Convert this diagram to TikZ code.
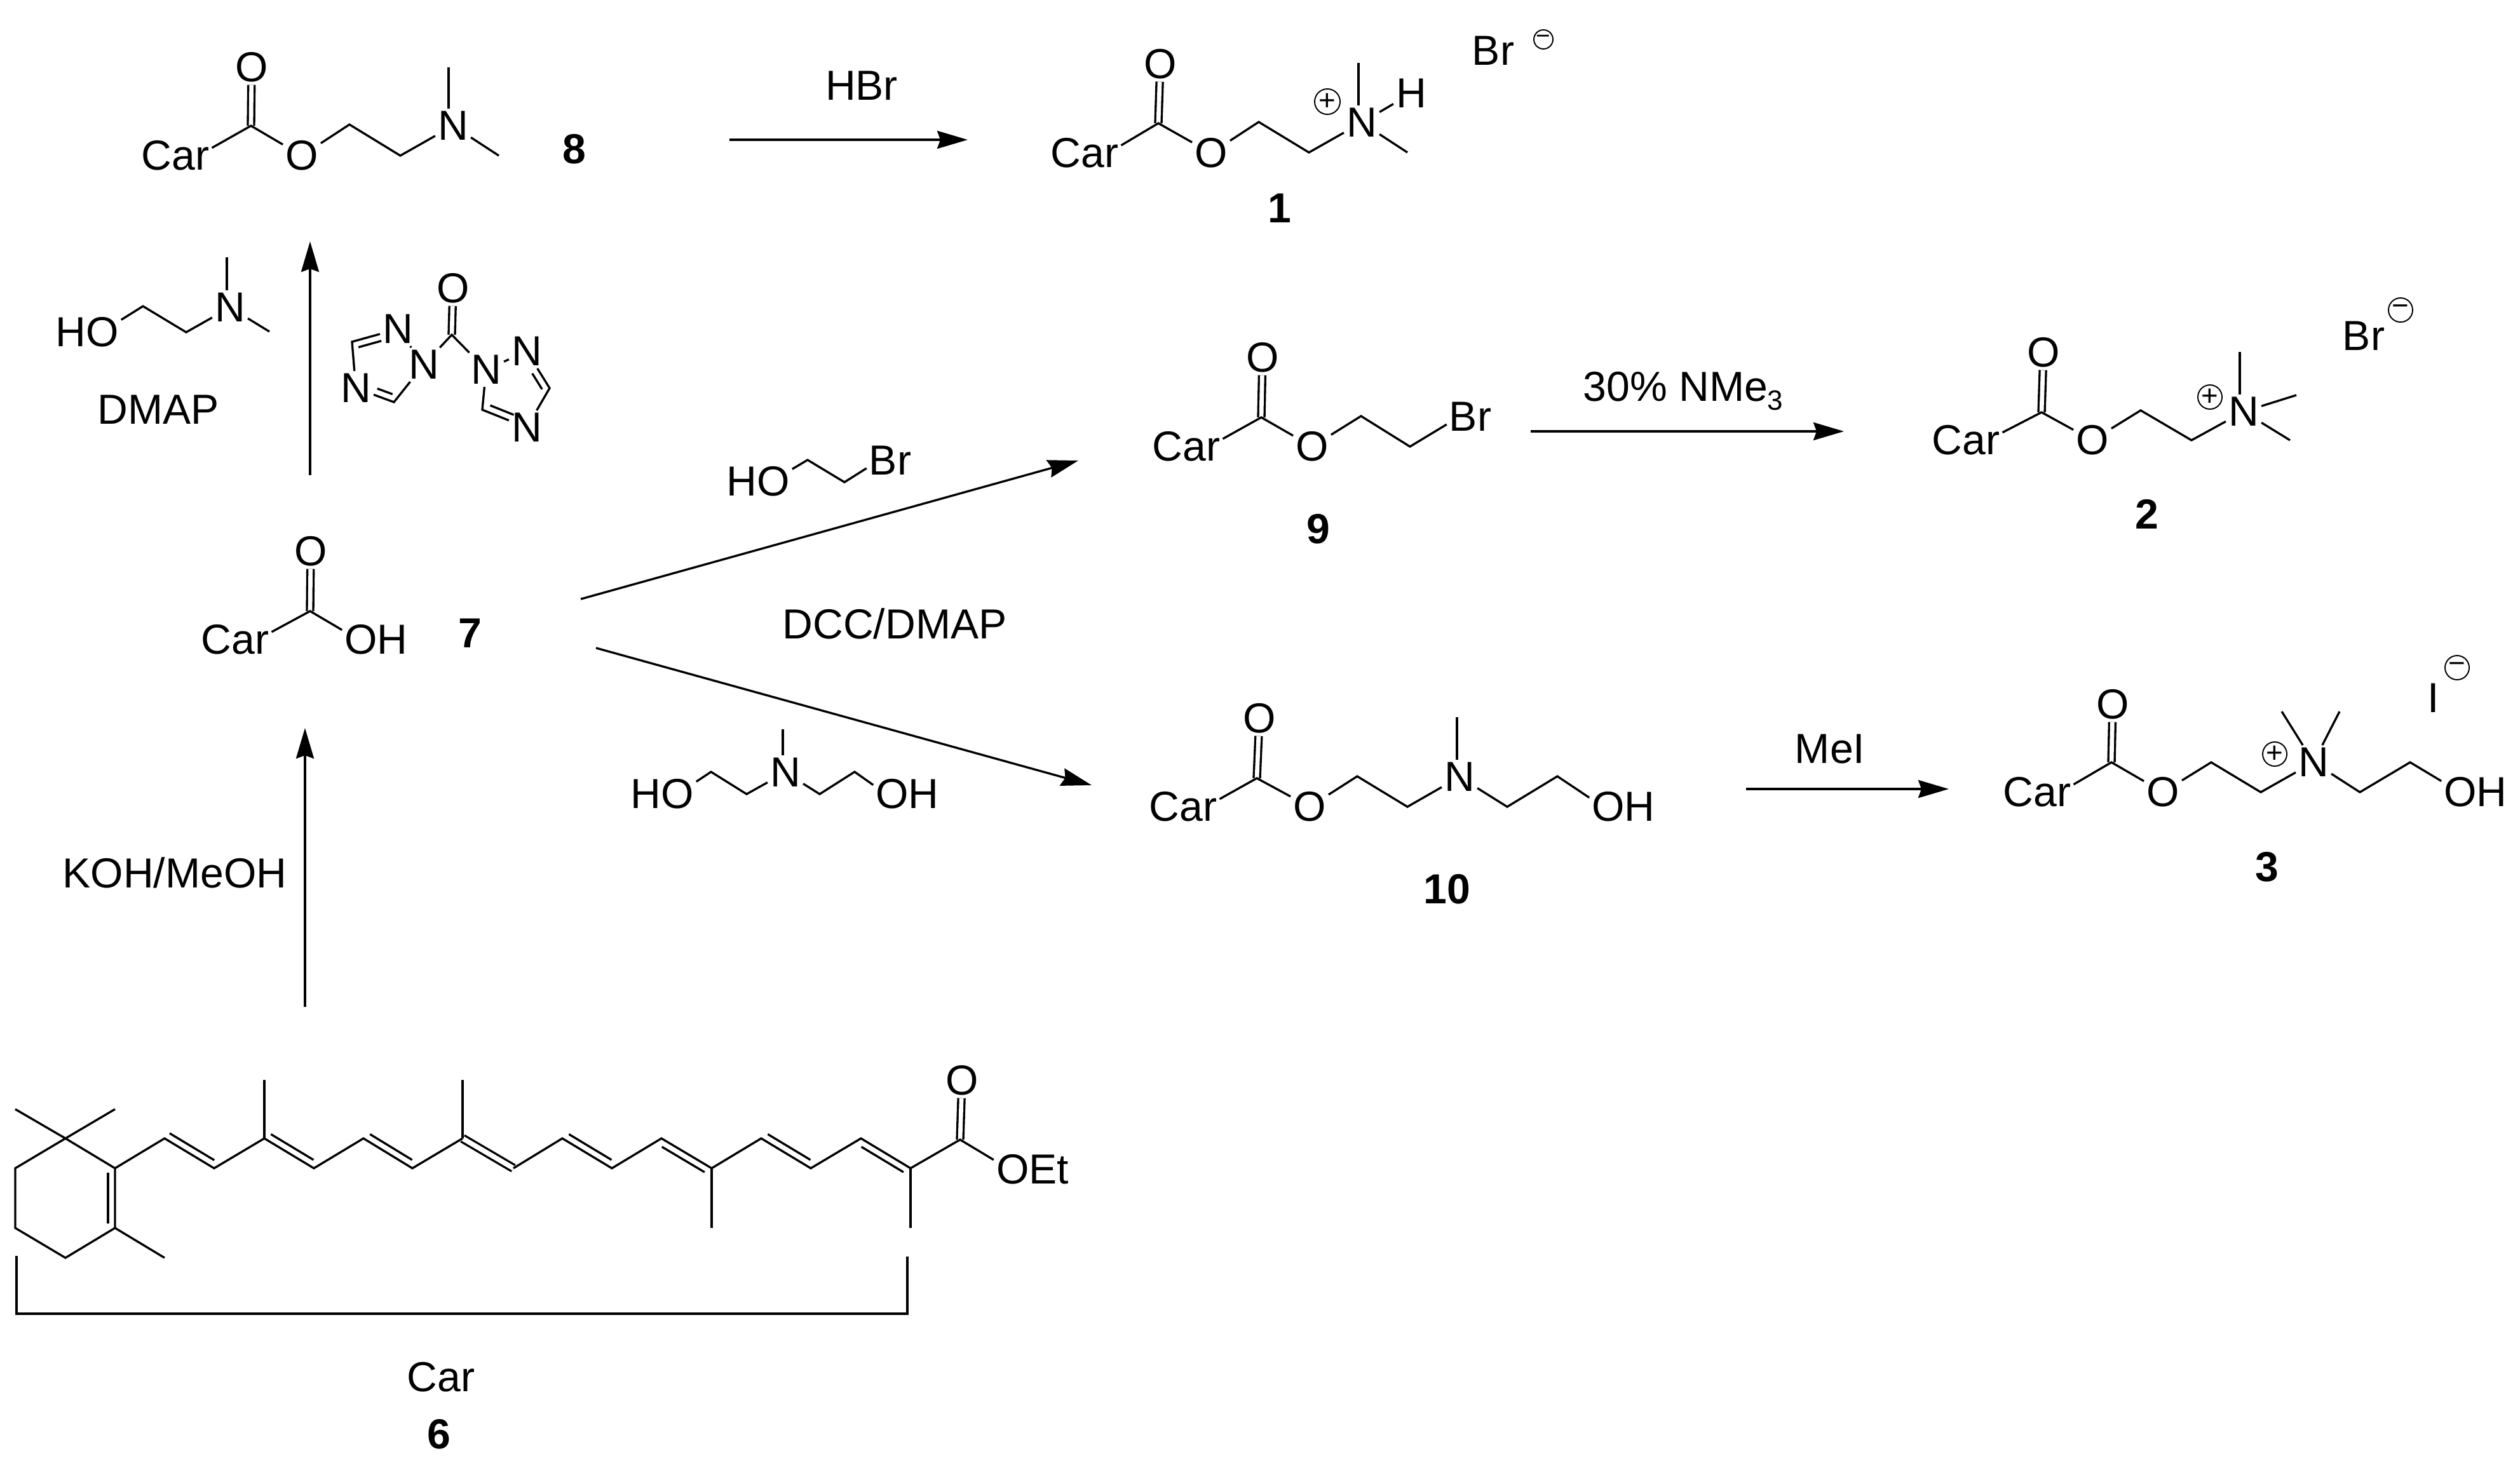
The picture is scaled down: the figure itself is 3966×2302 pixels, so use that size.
\documentclass[tikz,border=0pt]{standalone}
\usepackage{fontspec}
\setmainfont{Liberation Sans}
\usetikzlibrary{calc}
\usetikzlibrary{arrows.meta}
\tikzset{x=0.01cm,y=-0.01cm,
    every node/.style={
        font=\fontsize{18.8}{22}\selectfont,
        inner sep=1pt},
    cpd/.style={
        font=\fontsize{18.8}{22}\selectfont\bfseries},
    chg/.style={
        draw,circle,
        line width=.55pt,
        inner sep=0pt,
        minimum size=.38cm,
        font=\fontsize{13}{13}\selectfont},
    chgs/.style={
        chg,
        minimum size=.3cm,
        font=\fontsize{11}{11}\selectfont},
    bond/.style={
        line width=.95pt},
    dbl/.style={
        line width=.95pt,
        double,
        double distance=1.9pt},
    rxn/.style={
        line width=.95pt,
        -{Stealth[length=.48cm,width=.28cm,inset=.05cm]}}}
\newcommand{\inbond}[5]{\draw[bond] ($(#1)!#4!(#2)!.11cm!#3:(#2)$) -- ($(#1)!#5!(#2)!.11cm!#3:(#2)$);}

\begin{document}
\begin{tikzpicture}
    \useasboundingbox (0,0) rectangle (3966,2302);

    % 8
    \node (8car) at (276,245) {Car};
    \coordinate (8c) at (395,198);
    \node (8dO) at (396,106) {O};
    \node (8o) at (475,245) {O};
    \coordinate (8a) at (550,196);
    \coordinate (8b) at (630,245);
    \node (8n) at (713,198) {N};
    \coordinate (8m1) at (706,106);
    \coordinate (8m2) at (785,245);
    \node[cpd] (8) at (904,235) {8};
    \draw[dbl] (8c) -- (8dO);
    \draw[bond] (8car.12) -- (8c) -- (8o) -- (8a) -- (8b) -- (8n) -- (8m2);
    \draw[bond] (8m1) -- (8m1 |- 8n.north);

    % 1
    \node (1car) at (1707,241) {Car};
    \coordinate (1c) at (1823,194);
    \node (1dO) at (1826,101) {O};
    \node (1o) at (1906,241) {O};
    \coordinate (1a) at (1981,192);
    \coordinate (1b) at (2060,240);
    \node (1n) at (2143,193) {N};
    \node (1h) at (2221,147) {H};
    \coordinate (1m1) at (2138,99);
    \coordinate (1m2) at (2215,240);
    \node[chg,minimum size=.4cm] (1p) at (2089,160) {+};
    \node (1br) at (2350,80) {Br};
    \node[chgs] (1q) at (2429,62) {−};
    \node[cpd] (1) at (2014,328) {1};
    \draw[dbl] (1c) -- (1dO);
    \draw[bond] (1car.12) -- (1c) -- (1o) -- (1a) -- (1b) -- (1n) -- (1m2);
    \draw[bond] (1n) -- (1h);
    \draw[bond] (1m1) -- (1m1 |- 1n.north);

    % reagents on the arrow 7 to 8
    \node (dHO) at (137,523) {HO};
    \coordinate (da) at (225,482);
    \coordinate (db) at (293,523);
    \node (dn) at (362,484) {N};
    \coordinate (dm1) at (357,405);
    \coordinate (dm2) at (424,522);
    \node (dmap) at (249,645) {DMAP};
    \draw[bond] (dHO.20) -- (da) -- (db) -- (dn) -- (dm2);
    \draw[bond] (dm1) -- (dm1 |- dn.north);

    \node (cO) at (713,454) {O};
    \coordinate (cc) at (711,527);
    \node (ln1) at (667,574) {N};
    \node (ln2) at (626,518) {N};
    \coordinate (la) at (554,538);
    \node (ln3) at (560,611) {N};
    \coordinate (lb) at (620,633);
    \node (rn1) at (765,582) {N};
    \node (rn2) at (829,553) {N};
    \coordinate (rd) at (865,611);
    \node (rn3) at (829,673) {N};
    \coordinate (rc) at (759,645);
    \draw[dbl] (cc) -- (cO);
    \draw[bond] (ln1) -- (cc) -- (rn1);
    \draw[bond] (ln1) -- (ln2) -- (la) -- (ln3) -- (lb) -- (ln1);
    \inbond{la}{ln2}{-90}{.1}{.6}
    \inbond{ln3}{lb}{90}{.5}{.9}
    \draw[bond] (rn1) -- (rn2) -- (rd) -- (rn3) -- (rc) -- (rn1);
    \inbond{rc}{rn3}{90}{.12}{.65}
    \inbond{rn2}{rd}{-90}{.5}{.93}

    % 7
    \node (7car) at (370,1007) {Car};
    \coordinate (7c) at (488,962);
    \node (7dO) at (489,868) {O};
    \node (7oh) at (592,1007) {OH};
    \node[cpd] (7) at (740,997) {7};
    \draw[dbl] (7c) -- (7dO);
    \draw[bond] (7car.12) -- (7c) -- (7oh.164);

    % reagents on the arrows from 7
    \node (eHO) at (1193,758) {HO};
    \coordinate (ea) at (1271,724);
    \coordinate (eb) at (1329,759);
    \node (ebr) at (1401,725) {Br};
    \draw[bond] (eHO.20) -- (ea) -- (eb) -- (ebr.198);
    \node (dcc) at (1408,982) {DCC/DMAP};

    \node (tHO) at (1042,1250) {HO};
    \coordinate (ta) at (1119,1215);
    \coordinate (tb) at (1175,1250);
    \node (tn) at (1236,1216) {N};
    \coordinate (tm) at (1232,1148);
    \coordinate (tc) at (1290,1250);
    \coordinate (td) at (1345,1215);
    \node (toh) at (1428,1250) {OH};
    \draw[bond] (tHO.20) -- (ta) -- (tb) -- (tn) -- (tc) -- (td) -- (toh.165);
    \draw[bond] (tm) -- (tm |- tn.north);

    % 9
    \node (9car) at (1867,703) {Car};
    \coordinate (9c) at (1985,657);
    \node (9dO) at (1987,563) {O};
    \node (9o) at (2065,703) {O};
    \coordinate (9a) at (2142,655);
    \coordinate (9b) at (2219,703);
    \node (9br) at (2314,656) {Br};
    \node[cpd] (9) at (2075,833) {9};
    \draw[dbl] (9c) -- (9dO);
    \draw[bond] (9car.12) -- (9c) -- (9o) -- (9a) -- (9b) -- (9br.198);

    % 2
    \node (2car) at (3094,693) {Car};
    \coordinate (2c) at (3213,649);
    \node (2dO) at (3216,555) {O};
    \node (2o) at (3293,693) {O};
    \coordinate (2a) at (3369,646);
    \coordinate (2b) at (3449,693);
    \node (2n) at (3531,648) {N};
    \coordinate (2m1) at (3525,554);
    \coordinate (2m2) at (3614,622);
    \coordinate (2m3) at (3604,693);
    \node[chg] (2p) at (3478,625) {+};
    \node (2br) at (3720,529) {Br};
    \node[chg] (2q) at (3778,488) {−};
    \node[cpd] (2) at (3379,809) {2};
    \draw[dbl] (2c) -- (2dO);
    \draw[bond] (2car.12) -- (2c) -- (2o) -- (2a) -- (2b) -- (2n) -- (2m3);
    \draw[bond] (2n) -- (2m2);
    \draw[bond] (2m1) -- (2m1 |- 2n.north);

    % 10
    \node (10car) at (1862,1270) {Car};
    \coordinate (10c) at (1978,1225);
    \node (10dO) at (1982,1131) {O};
    \node (10o) at (2061,1270) {O};
    \coordinate (10a) at (2136,1222);
    \coordinate (10b) at (2215,1270);
    \node (10n) at (2297,1223) {N};
    \coordinate (10m) at (2293,1129);
    \coordinate (10d) at (2372,1270);
    \coordinate (10e) at (2451,1222);
    \node (10oh) at (2555,1270) {OH};
    \node[cpd] (10) at (2277,1400) {10};
    \draw[dbl] (10c) -- (10dO);
    \draw[bond] (10car.12) -- (10c) -- (10o) -- (10a) -- (10b) -- (10n) -- (10d) -- (10e) -- (10oh.165);
    \draw[bond] (10m) -- (10m |- 10n.north);

    % 3
    \node (3car) at (3206,1247) {Car};
    \coordinate (3c) at (3323,1200);
    \node (3dO) at (3325,1109) {O};
    \node (3o) at (3404,1247) {O};
    \coordinate (3a) at (3480,1200);
    \coordinate (3b) at (3558,1247);
    \node (3n) at (3641,1200) {N};
    \coordinate (3m1) at (3591,1120);
    \coordinate (3m2) at (3682,1120);
    \coordinate (3d) at (3714,1247);
    \coordinate (3e) at (3793,1200);
    \node (3oh) at (3896,1247) {OH};
    \node[chg] (3p) at (3580,1187) {+};
    \node (3i) at (3830,1099) {I};
    \node[chg] (3q) at (3867,1051) {−};
    \node[cpd] (3) at (3568,1365) {3};
    \draw[dbl] (3c) -- (3dO);
    \draw[bond] (3car.12) -- (3c) -- (3o) -- (3a) -- (3b) -- (3n) -- (3d) -- (3e) -- (3oh.162);
    \draw[bond] (3m1) -- (3n);
    \draw[bond] (3m2) -- (3n);

    % 6
    \coordinate (r1) at (103,1792);
    \coordinate (r2) at (181,1839);
    \coordinate (r3) at (181,1933);
    \coordinate (r4) at (103,1980);
    \coordinate (r5) at (24,1933);
    \coordinate (r6) at (24,1839);
    \coordinate (m1) at (24,1746);
    \coordinate (m2) at (181,1746);
    \coordinate (m3) at (259,1980);
    \coordinate (p1) at (259,1792);
    \coordinate (p2) at (337,1839);
    \coordinate (p3) at (416,1792);
    \coordinate (m4) at (416,1700);
    \coordinate (p4) at (494,1839);
    \coordinate (p5) at (572,1792);
    \coordinate (p6) at (649,1839);
    \coordinate (p7) at (728,1792);
    \coordinate (m5) at (728,1700);
    \coordinate (p8) at (808,1839);
    \coordinate (p9) at (885,1792);
    \coordinate (p10) at (963,1839);
    \coordinate (p11) at (1041,1792);
    \coordinate (p12) at (1120,1839);
    \coordinate (m6) at (1120,1933);
    \coordinate (p13) at (1198,1792);
    \coordinate (p14) at (1276,1839);
    \coordinate (p15) at (1355,1792);
    \coordinate (p16) at (1433,1839);
    \coordinate (m7) at (1433,1933);
    \coordinate (p17) at (1511,1794);
    \node (6dO) at (1514,1701) {O};
    \node (6oet) at (1625,1841) {OEt};
    \draw[dbl,double distance=2.2pt] (p7) -- (p8);
    \draw[dbl] (p17) -- (6dO);
    \draw[bond] (r1) -- (r2) -- (r3) -- (r4) -- (r5) -- (r6) -- cycle;
    \draw[bond] (m1) -- (r1) -- (m2);
    \draw[bond] (r3) -- (m3);
    \draw[bond] (r2) -- (p1) -- (p2) -- (p3) -- (p4) -- (p5) -- (p6) -- (p7);
    \draw[bond] (p8) -- (p9) -- (p10) -- (p11) -- (p12) -- (p13) -- (p14) -- (p15) -- (p16) -- (p17) -- (6oet.166);
    \draw[bond] (p3) -- (m4);
    \draw[bond] (p7) -- (m5);
    \draw[bond] (p12) -- (m6);
    \draw[bond] (p16) -- (m7);
    \inbond{r2}{r3}{-90}{.07}{.93}
    \inbond{p1}{p2}{90}{.03}{.93}
    \inbond{p3}{p4}{90}{.06}{.92}
    \inbond{p5}{p6}{90}{.06}{.92}
    \inbond{p9}{p10}{90}{.06}{.92}
    \inbond{p11}{p12}{-90}{.08}{.93}
    \inbond{p13}{p14}{90}{.06}{.92}
    \inbond{p15}{p16}{-90}{.08}{.93}

    \coordinate (bl) at (26,1977);
    \coordinate (bc) at (26,2068);
    \coordinate (bd) at (1428,2068);
    \coordinate (br) at (1428,1978);
    \draw[bond] (bl) -- (bc) -- (bd) -- (br);
    \node (6car) at (694,2168) {Car};
    \node[cpd] (6) at (691,2258) {6};

    % reaction arrows
    \coordinate (s81) at (1148,220);
    \coordinate (e81) at (1523,220);
    \node (hbr) at (1356,135) {HBr};
    \draw[rxn] (s81) -- (e81);

    \coordinate (s78) at (488,748);
    \coordinate (e78) at (488,380);
    \draw[rxn] (s78) -- (e78);

    \coordinate (s67) at (480,1585);
    \coordinate (e67) at (480,1146);
    \node (koh) at (275,1374) {KOH/MeOH};
    \draw[rxn] (s67) -- (e67);

    \coordinate (s79) at (914,943);
    \coordinate (e79) at (1697,725);
    \draw[rxn] (s79) -- (e79);

    \coordinate (s710) at (938,1020);
    \coordinate (e710) at (1718,1236);
    \draw[rxn] (s710) -- (e710);

    \coordinate (s92) at (2409,679);
    \coordinate (e92) at (2902,679);
    \node[anchor=base] (nme) at (2649,631) {30\% NMe\raisebox{-4pt}{\fontsize{12.5}{12.5}\selectfont 3}};
    \draw[rxn] (s92) -- (e92);

    \coordinate (s103) at (2748,1242);
    \coordinate (e103) at (3067,1242);
    \node (mei) at (2880,1179) {MeI};
    \draw[rxn] (s103) -- (e103);
\end{tikzpicture}
\end{document}
